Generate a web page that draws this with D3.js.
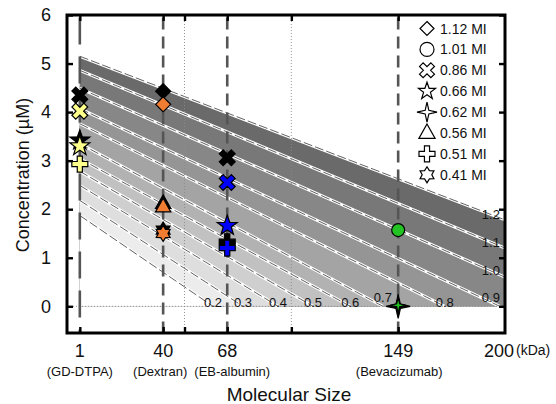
<!DOCTYPE html>
<html><head><meta charset="utf-8">
<script src="https://cdn.jsdelivr.net/npm/d3@7"></script>
<style>
html,body{margin:0;padding:0;background:#fff;}
svg{display:block;font-family:"Liberation Sans", Arial, sans-serif;}
</style></head><body>
<svg id="chart" width="556" height="404"></svg>
<script>
// ---------- data ----------
const sizeLabels = ["1", "40", "68", "149"];
const sizeNames = ["(GD-DTPA)", "(Dextran)", "(EB-albumin)", "(Bevacizumab)"];
const sizePositions = [1, 40, 70, 150];
const gridSizes = [50, 100];
const xTickSizes = [1, 40, 50, 70, 100, 150];
const yTicks = [0, 1, 2, 3, 4, 5, 6];

// iso-MI contour lines: concentration at 1 kDa and at 200 kDa (extrapolated below 0 is clipped)
const miLevels = [0.2, 0.3, 0.4, 0.5, 0.6, 0.7, 0.8, 0.9, 1.0, 1.1, 1.2];
const levelAt1kDa = [1.87, 2.18, 2.49, 2.78, 3.04, 3.35, 3.76, 4.07, 4.49, 4.86, 5.15];
const levelAt200kDa = [-4.10, -3.50, -2.85, -2.29, -1.74, -1.35, -0.62, -0.05, 0.60, 1.20, 1.78];

// measured points
const pointSize = [1, 1, 1, 1, 1, 40, 40, 40, 40, 40, 40, 70, 70, 70, 70, 70, 150, 150, 150];
const pointConc = [4.35, 4.02, 3.42, 3.30, 2.93, 4.43, 4.16, 2.12, 2.05, 1.57, 1.50, 3.06, 2.55, 1.66, 1.33, 1.20, 1.57, 0.00, 0.02];
const pointMI = [0.86, 0.86, 0.66, 0.66, 0.51, 1.12, 1.12, 0.56, 0.56, 0.41, 0.41, 0.86, 0.86, 0.66, 0.51, 0.51, 1.01, 0.62, 0.62];
const pointGroup = ["ref", "yellow", "ref", "yellow", "yellow", "ref", "orange", "ref", "orange", "ref", "orange", "ref", "blue", "blue", "ref", "blue", "green", "ref", "green"];

// legend
const legendMI = [1.12, 1.01, 0.86, 0.66, 0.62, 0.56, 0.51, 0.41];
const legendLabels = ["1.12 MI", "1.01 MI", "0.86 MI", "0.66 MI", "0.62 MI", "0.56 MI", "0.51 MI", "0.41 MI"];
const legendShapes = ["diamond", "circle", "x", "star5", "star4", "triangle", "plus", "hexagram"];

// ---------- setup ----------
const svg = d3.select("#chart");
const L = 67, R = 505, T = 15, B = 333;
const x = d3.scaleLinear().domain([-5, 200]).range([L, R]);
const y = d3.scaleLinear().domain([-0.55, 6]).range([B, T]);

const shapeOf = d3.scaleOrdinal().domain(legendMI).range(legendShapes);
const colorOf = d3.scaleOrdinal().domain(["ref", "yellow", "orange", "blue", "green"])
  .range(["#000000", "#ffff8c", "#f07d32", "#0000ff", "#22c322"]);
const radiusOf = {diamond: 7.5, circle: 6.5, x: 8.5, star5: 10.5, star4: 8, triangle: 8.5, plus: 8, hexagram: 8};
const legendRadius = {diamond: 7, circle: 7, x: 8, star5: 9, star4: 10, triangle: 9, plus: 8, hexagram: 8};
const subLabelShift = [0, -3, 5, 1];

function poly(pts) { return "M" + pts.map(p => p[0].toFixed(2) + "," + p[1].toFixed(2)).join("L") + "Z"; }
function starPts(n, Ro, Ri) {
  const pts = [];
  for (let i = 0; i < 2 * n; i++) {
    const a = i * Math.PI / n, rr = i % 2 === 0 ? Ro : Ri;
    pts.push([rr * Math.sin(a), -rr * Math.cos(a)]);
  }
  return pts;
}
function plusPts(Rr, rot) {
  const w = Rr * 0.32;
  const p = [[-w,-Rr],[w,-Rr],[w,-w],[Rr,-w],[Rr,w],[w,w],[w,Rr],[-w,Rr],[-w,w],[-Rr,w],[-Rr,-w],[-w,-w]];
  const c = Math.cos(rot), s = Math.sin(rot);
  return p.map(q => [q[0]*c - q[1]*s, q[0]*s + q[1]*c]);
}
function shapePath(shape, Rr) {
  switch (shape) {
    case "diamond": return poly([[0,-Rr],[Rr,0],[0,Rr],[-Rr,0]]);
    case "circle": return `M${-Rr},0A${Rr},${Rr} 0 1,0 ${Rr},0A${Rr},${Rr} 0 1,0 ${-Rr},0Z`;
    case "x": return poly(plusPts(Rr, Math.PI / 4));
    case "plus": return poly(plusPts(Rr, 0));
    case "star5": return poly(starPts(5, Rr, Rr * 0.40));
    case "star4": return poly(starPts(4, Rr, Rr * 0.26));
    case "triangle": return poly([[0,-Rr],[Rr*0.9,Rr*0.6],[-Rr*0.9,Rr*0.6]]);
    case "hexagram": return poly(starPts(6, Rr, Rr * 0.6));
  }
}

svg.append("defs").append("clipPath").attr("id", "plotclip")
  .append("rect").attr("x", L).attr("y", T).attr("width", R - L).attr("height", B - T);
const plot = svg.append("g").attr("clip-path", "url(#plotclip)");

// ---------- bands ----------
const gray = d3.scaleLinear().domain([0.2, 1.1]).range(["#ececec", "#6a6a6a"]);
function lineVal(i, s) { const a = levelAt1kDa[i], b = levelAt200kDa[i]; return a + (b - a) * (s - 1) / 199; }
function lineEnd(i) {
  const a = levelAt1kDa[i], b = levelAt200kDa[i];
  if (b >= 0) return [200, b];
  return [1 + a * 199 / (a - b), 0];
}
const area = d3.area().x(d => x(d[0])).y0(y(0)).y1(d => y(d[1]));
for (let i = miLevels.length - 1; i >= 0; i--) {
  const e = lineEnd(i);
  const pts = [[1, levelAt1kDa[i]], e];
  if (e[0] < 200) pts.push([200, 0]);
  plot.append("path").attr("d", area(pts))
    .attr("fill", i === 0 ? "#ffffff" : gray(miLevels[i - 1]));
}
// contour lines
const lineGen = d3.line().x(d => x(d[0])).y(d => y(d[1]));
miLevels.forEach((m, i) => {
  const pts = [[1, levelAt1kDa[i]], lineEnd(i)];
  plot.append("path").attr("d", lineGen(pts)).attr("fill", "none")
    .attr("stroke", "#ffffff").attr("stroke-width", 3);
  plot.append("path").attr("d", lineGen(pts)).attr("fill", "none")
    .attr("stroke", "#626262").attr("stroke-width", 1).attr("stroke-dasharray", "9,3");
});

// ---------- grid ----------
plot.selectAll(".vgrid").data(gridSizes).enter().append("line")
  .attr("x1", d => x(d)).attr("x2", d => x(d)).attr("y1", T).attr("y2", B)
  .attr("stroke", "#8a8a8a").attr("stroke-width", 0.9).attr("stroke-dasharray", "1,2");
plot.append("line").attr("x1", L).attr("x2", R).attr("y1", y(0)).attr("y2", y(0))
  .attr("stroke", "#8a8a8a").attr("stroke-width", 0.9).attr("stroke-dasharray", "1,2");

// dashed reference lines
plot.selectAll(".vdash").data(sizePositions).enter().append("line")
  .attr("x1", d => x(d)).attr("x2", d => x(d)).attr("y1", y(5.95)).attr("y2", B)
  .attr("stroke", "#555").attr("stroke-width", 2.6)
  .attr("stroke-dasharray", (d, i) => i === 0 ? "27,12" : "12,7");

// contour labels
miLevels.forEach((m, i) => {
  const e = lineEnd(i);
  let lx, ly;
  if (e[0] < 190) { lx = e[0]; ly = (m === 0.7) ? 0.19 : 0.07; }
  else { lx = 193.4; ly = Math.max(lineVal(i, lx), 0.18); }
  svg.append("text").attr("x", x(lx)).attr("y", y(ly)).attr("dy", "0.35em")
    .attr("text-anchor", "middle").attr("font-size", 13).attr("fill", "#111")
    .text(m.toFixed(1));
});

// ---------- points ----------
const pts = pointSize.map((s, i) => ({s, c: pointConc[i], mi: pointMI[i], g: pointGroup[i]}));
svg.append("g").selectAll("path").data(pts).enter().append("path")
  .attr("transform", d => `translate(${x(d.s)},${y(d.c)})`)
  .attr("d", d => {
    const sh = shapeOf(d.mi);
    let r = radiusOf[sh];
    if (sh === "star4" && d.g === "ref") r = 12;
    return shapePath(sh, r);
  })
  .attr("fill", d => colorOf(d.g))
  .attr("stroke", "#000").attr("stroke-width", 1.2).attr("stroke-linejoin", "miter");

// ---------- legend ----------
const lg = svg.append("g");
legendLabels.forEach((lab, i) => {
  const cy = 28.5 + i * 20.9;
  const sh = legendShapes[i];
  lg.append("path").attr("transform", `translate(427,${cy})`).attr("d", shapePath(sh, legendRadius[sh]))
    .attr("fill", "#fff").attr("stroke", "#000").attr("stroke-width", 1.2);
  lg.append("text").attr("x", 440).attr("y", cy).attr("dy", "0.36em")
    .attr("font-size", 14).attr("fill", "#111").text(lab);
});

// ---------- axes ----------
function styleAxis(g) {
  g.select(".domain").remove();
  g.selectAll(".tick line").attr("stroke", "#000").attr("stroke-width", 2.4);
}
svg.append("g").attr("transform", `translate(${L},0)`)
  .call(d3.axisLeft(y).tickValues(yTicks).tickSize(-6).tickPadding(16).tickFormat(d3.format("d")))
  .call(styleAxis)
  .call(g => g.selectAll("text").attr("font-size", 18).attr("fill", "#111")
    .attr("font-family", "Liberation Sans, Arial, sans-serif"));
svg.append("g").attr("transform", `translate(${R},0)`)
  .call(d3.axisRight(y).tickValues(yTicks).tickSize(-6).tickFormat(""))
  .call(styleAxis);
svg.append("g").attr("transform", `translate(0,${B})`)
  .call(d3.axisBottom(x).tickValues(xTickSizes).tickSize(-6).tickFormat(""))
  .call(styleAxis);
svg.append("g").attr("transform", `translate(0,${T})`)
  .call(d3.axisTop(x).tickValues(xTickSizes).tickSize(-6).tickFormat(""))
  .call(styleAxis);

// frame
svg.append("rect").attr("x", L).attr("y", T).attr("width", R - L).attr("height", B - T)
  .attr("fill", "none").attr("stroke", "#000").attr("stroke-width", 3);

// x tick labels
sizeLabels.forEach((lab, i) => {
  svg.append("text").attr("x", x(sizePositions[i])).attr("y", 357)
    .attr("text-anchor", "middle").attr("font-size", 18).attr("fill", "#111").text(lab);
  svg.append("text").attr("x", x(sizePositions[i]) + subLabelShift[i]).attr("y", 376)
    .attr("text-anchor", "middle").attr("font-size", 13).attr("fill", "#111").text(sizeNames[i]);
});
svg.append("text").attr("x", x(200) + 9).attr("y", 357)
  .attr("text-anchor", "end").attr("font-size", 18).attr("fill", "#111").text("200");
svg.append("text").attr("x", 516).attr("y", 355)
  .attr("font-size", 14).attr("fill", "#111").text("(kDa)");

// axis titles
svg.append("text").attr("x", 289).attr("y", 401).attr("text-anchor", "middle")
  .attr("font-size", 19).attr("fill", "#111").text("Molecular Size");
svg.append("text").attr("transform", "translate(29,175) rotate(-90)").attr("text-anchor", "middle")
  .attr("font-size", 18).attr("fill", "#111").text("Concentration (µM)");
</script>
</body></html>
